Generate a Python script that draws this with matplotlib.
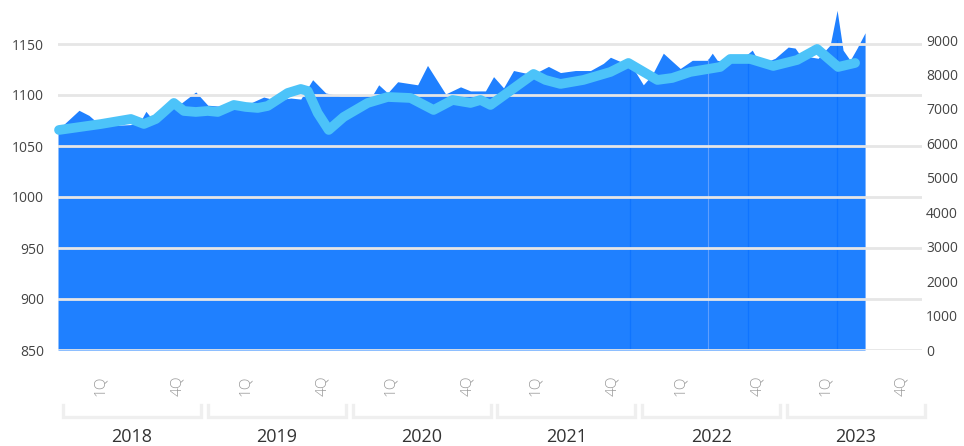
import matplotlib
matplotlib.use("Agg")
import matplotlib.pyplot as plt
import numpy as np

# ---------------- data ----------------
# area series (left axis), x in fractional years
area_t = [2017.983, 2018.128, 2018.197, 2018.245, 2018.348, 2018.486, 2018.555, 2018.590,
          2018.624, 2018.672, 2018.728, 2018.797, 2018.934, 2019.017, 2019.107, 2019.190,
          2019.279, 2019.403, 2019.486, 2019.590, 2019.659, 2019.741, 2019.831, 2019.934,
          2020.072, 2020.155, 2020.197, 2020.259, 2020.328, 2020.466, 2020.534, 2020.659,
          2020.762, 2020.831, 2020.934, 2020.990, 2021.059, 2021.128, 2021.259, 2021.369,
          2021.452, 2021.555, 2021.659, 2021.748, 2021.797, 2021.879, 2021.921, 2022.024,
          2022.086, 2022.162, 2022.224, 2022.279, 2022.362, 2022.466, 2022.500, 2022.534,
          2022.624, 2022.693, 2022.776, 2022.831, 2022.934, 2023.024, 2023.072, 2023.107,
          2023.231, 2023.314, 2023.362, 2023.403, 2023.452, 2023.500, 2023.555]
area_v = [1066, 1085, 1080, 1074, 1070, 1071, 1075, 1084,
          1078, 1078, 1090, 1088, 1103, 1090, 1089, 1092,
          1090, 1098, 1095, 1097, 1096, 1115, 1102, 1099,
          1099, 1100, 1110, 1102, 1113, 1110, 1129, 1101,
          1108, 1104, 1104, 1118, 1107, 1124, 1120, 1128,
          1122, 1124, 1124, 1131, 1137, 1132, 1134, 1110,
          1120, 1141, 1133, 1126, 1134, 1134, 1141, 1134,
          1132, 1134, 1144, 1130, 1136, 1147, 1146, 1139,
          1136, 1149, 1183, 1144, 1134, 1146, 1161]

# segment boundaries visible inside the area
seg_dark_t = [2021.934, 2022.748, 2023.362]
seg_light_t = [2022.472]

# line series (right axis)
line_t = [2017.990, 2018.279, 2018.486, 2018.576, 2018.659, 2018.714, 2018.783, 2018.852,
          2018.934, 2019.017, 2019.086, 2019.197, 2019.279, 2019.362, 2019.431, 2019.569,
          2019.659, 2019.707, 2019.776, 2019.852, 2019.955, 2020.121, 2020.259, 2020.417,
          2020.576, 2020.707, 2020.831, 2020.900, 2020.969, 2021.266, 2021.348, 2021.452,
          2021.610, 2021.797, 2021.921, 2022.121, 2022.224, 2022.348, 2022.555, 2022.624,
          2022.762, 2022.921, 2023.086, 2023.224, 2023.369, 2023.486]
line_v = [6388, 6560, 6707, 6562, 6707, 6911, 7172, 6940,
          6911, 6940, 6911, 7114, 7056, 7027, 7085, 7462,
          7578, 7520, 6881, 6388, 6765, 7172, 7346, 7317,
          6969, 7259, 7172, 7259, 7114, 8014, 7840, 7724,
          7840, 8072, 8333, 7840, 7898, 8072, 8217, 8449,
          8449, 8246, 8420, 8740, 8217, 8333]

years = [2018, 2019, 2020, 2021, 2022, 2023]
quarter_labels = ["1Q", "4Q"]
left_ticks = [850, 900, 950, 1000, 1050, 1100, 1150]
right_ticks = [0, 1000, 2000, 3000, 4000, 5000, 6000, 7000, 8000, 9000]

# ---------------- style ----------------
plt.rcParams['font.family'] = ['Open Sans', 'DejaVu Sans']
AREA = "#1f80ff"
LINE = "#4cc3f9"
GRID = "#e6e6e6"

fig = plt.figure(figsize=(9.64, 4.46), dpi=100)
W, H = 964, 446
x0, x1 = 58, 922
ytop, ybot = 40, 350
ax = fig.add_axes([x0 / W, 1 - ybot / H, (x1 - x0) / W, (ybot - ytop) / H])
ax2 = ax.twinx()

ax.set_xlim(2017.983, 2023.948)
ax.set_ylim(850, 850 + 310 / 1.02)
ax2.set_ylim(0, 9000)

ax.fill_between(area_t, area_v, 850, color=AREA, lw=0, zorder=1, clip_on=False)
for t in seg_dark_t:
    ax.vlines(t, 850, np.interp(t, area_t, area_v), color="#0f74ff", lw=0.9, zorder=1.2)
for t in seg_light_t:
    ax.vlines(t, 850, np.interp(t, area_t, area_v), color="#5e9fff", lw=0.8, zorder=1.2)

ax.set_axisbelow(False)
ax.grid(axis='y', color=GRID, lw=2, zorder=2)
ax.grid(axis='x', visible=False)

ax2.plot(line_t, line_v, color=LINE, lw=7, solid_joinstyle='round',
         solid_capstyle='round', zorder=3, clip_on=False)

for a in (ax, ax2):
    for s in a.spines.values():
        s.set_visible(False)
    a.tick_params(length=0)

ax.set_yticks(left_ticks)
ax.set_yticklabels([str(v) for v in left_ticks], fontsize=10, color="#444444")
ax.tick_params(axis='y', pad=10)
ax2.set_yticks(right_ticks)
ax2.set_yticklabels([str(v) for v in right_ticks], fontsize=10, color="#444444")
ax2.tick_params(axis='y', pad=3)
ax.set_xticks([])

trans = ax.get_xaxis_transform()
hpx = ybot - ytop
def fy(py):
    return -(py - ybot) / hpx

for y in years:
    for off, lab in zip([0.279, 0.81], quarter_labels):
        ax.text(y + off, fy(386), lab, transform=trans, rotation=90,
                ha='center', va='center', fontsize=11, color="#9a9a9a",
                fontweight='light')
    xa, xb = y + 0.017, y + 0.969
    ax.plot([xa, xa, xb, xb], [fy(405), fy(417), fy(417), fy(405)],
            transform=trans, color="#efefef", lw=2.4, clip_on=False,
            solid_joinstyle='miter')
    ax.text(y + 0.493, fy(437), str(y), transform=trans, ha='center',
            va='center', fontsize=13, color="#333333")

fig.savefig("out.png", dpi=100)
